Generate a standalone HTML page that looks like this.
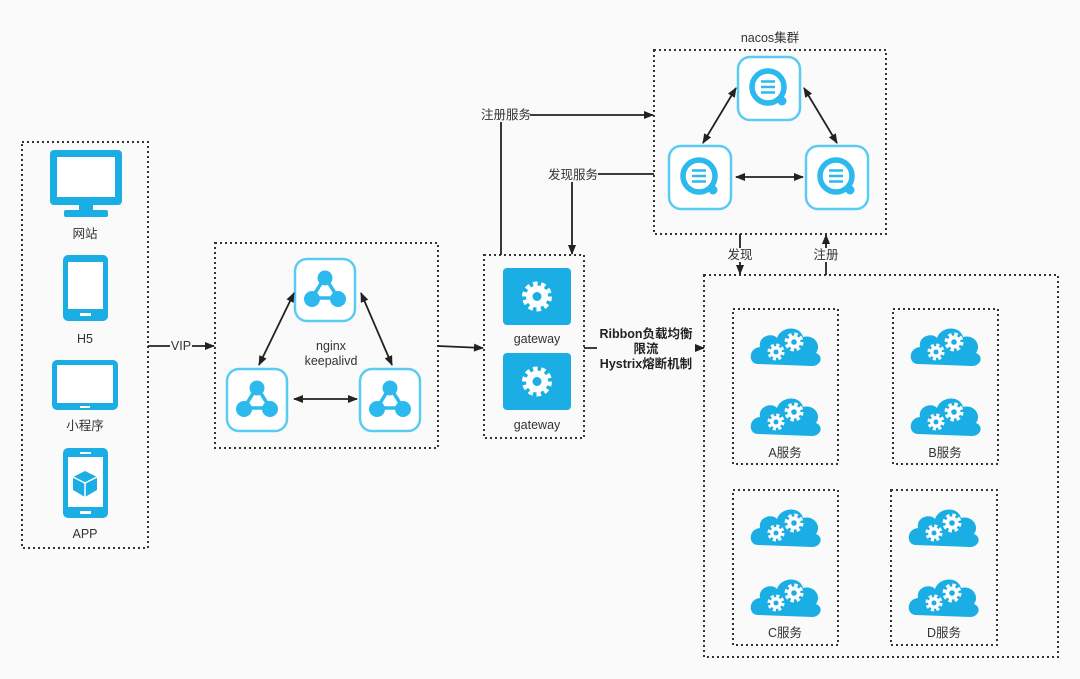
<!DOCTYPE html>
<html><head><meta charset="utf-8"><style>
body{margin:0;background:#fafafa;}
svg{display:block;font-family:"Liberation Sans","Noto Sans CJK SC",sans-serif;}
</style></head><body>
<svg width="1080" height="679" viewBox="0 0 1080 679" xmlns="http://www.w3.org/2000/svg">
<defs>
<marker id="ah" viewBox="0 0 10 10" refX="9" refY="5" markerWidth="12" markerHeight="10" orient="auto-start-reverse" markerUnits="userSpaceOnUse"><path d="M0,1 L10,5 L0,9 z" fill="#222"/></marker>
<g id="ng">
<rect x="2" y="2" width="60" height="62" rx="12" fill="#fff" stroke="#5ccbf2" stroke-width="2.5"/>
<path d="M32,20 L19,41 L45,41 Z" fill="none" stroke="#2bb9ee" stroke-width="3.5"/>
<circle cx="32" cy="21" r="7.5" fill="#2bb9ee"/><circle cx="19" cy="42" r="8" fill="#2bb9ee"/><circle cx="45" cy="42" r="8" fill="#2bb9ee"/>
</g>
<g id="nc">
<rect x="2" y="2" width="62" height="63" rx="12" fill="#fff" stroke="#5ccbf2" stroke-width="2.5"/>
<circle cx="32" cy="32" r="16" fill="none" stroke="#2bb9ee" stroke-width="5.5"/>
<circle cx="46" cy="46" r="4.5" fill="#2bb9ee"/>
<path d="M25,26.5 H39 M25,32 H39 M25,37.5 H39" stroke="#2bb9ee" stroke-width="2.4"/>
</g>
<g id="gear">
<circle r="7.5" fill="none" stroke="#fff" stroke-width="4" stroke-dasharray="3.3 2.6"/>
<circle r="6.5" fill="#fff"/><circle r="2.8" fill="#1aaee5"/>
</g>
<g id="cloud">
<path d="M8,44 C-2,44 -2,28 10,27 C8,16 22,12 27,18 C31,6 50,5 53,17 C64,14 72,25 66,33 C74,36 71,46 62,46 Z" fill="#1aaee5"/>
<use href="#gear" transform="translate(26,32) scale(0.9)"/>
<use href="#gear" transform="translate(44,22) scale(1)"/>
</g>
<g id="gw">
<rect width="68" height="57" rx="4" fill="#1aaee5"/>
<g transform="translate(34,28.5)"><circle r="12" fill="none" stroke="#fff" stroke-width="6" stroke-dasharray="4.2 3.3"/><circle r="11" fill="#fff"/><circle r="4.5" fill="#1aaee5"/></g>
</g>
</defs>

<g fill="none" stroke="#333" stroke-width="2" stroke-dasharray="2 3">
<rect x="22" y="142" width="126" height="406"/>
<rect x="215" y="243" width="223" height="205"/>
<rect x="484" y="255" width="100" height="183"/>
<rect x="654" y="50" width="232" height="184"/>
<rect x="704" y="275" width="354" height="382"/>
<rect x="733" y="309" width="105" height="155"/>
<rect x="893" y="309" width="105" height="155"/>
<rect x="733" y="490" width="105" height="155"/>
<rect x="891" y="490" width="106" height="155"/>
</g>

<!-- clients -->
<g fill="#1aaee5">
<rect x="50" y="150" width="72" height="55" rx="4"/><rect x="57" y="157" width="58" height="40" fill="#fff"/>
<rect x="79" y="204" width="14" height="8"/><rect x="64" y="210" width="44" height="7" rx="2"/>
<rect x="63" y="255" width="45" height="66" rx="5"/><rect x="68" y="262" width="35" height="47" fill="#fff"/><rect x="80" y="313" width="11" height="3" fill="#fff"/>
<rect x="52" y="360" width="66" height="50" rx="5"/><rect x="57" y="365" width="56" height="38" fill="#fff"/><rect x="80" y="406" width="10" height="2" fill="#fff"/>
<rect x="63" y="448" width="45" height="70" rx="5"/><rect x="68" y="457" width="35" height="50" fill="#fff"/><rect x="80" y="452" width="11" height="2" fill="#fff"/><rect x="80" y="511" width="11" height="3" fill="#fff"/>
<path d="M85,471 L97,477 L97,490 L85,497 L73,490 L73,477 Z"/>
<path d="M73,477 L85,483 L97,477 M85,483 V497" stroke="#fff" stroke-width="1.5" fill="none"/>
</g>
<g font-size="12.5" fill="#333" text-anchor="middle">
<text x="85" y="238">网站</text><text x="85" y="343">H5</text><text x="85" y="430">小程序</text><text x="85" y="538">APP</text>
</g>

<!-- nginx -->
<use href="#ng" x="293" y="257"/>
<use href="#ng" x="225" y="367"/>
<use href="#ng" x="358" y="367"/>
<text x="331" y="350" font-size="12.5" fill="#333" text-anchor="middle">nginx</text>
<text x="331" y="365" font-size="12.5" fill="#333" text-anchor="middle">keepalivd</text>
<g stroke="#222" stroke-width="1.8" marker-start="url(#ah)" marker-end="url(#ah)">
<line x1="294" y1="293" x2="259" y2="365"/>
<line x1="361" y1="293" x2="392" y2="365"/>
<line x1="294" y1="399" x2="357" y2="399"/>
</g>

<!-- VIP -->
<line x1="148" y1="346" x2="214" y2="346" stroke="#222" stroke-width="1.8" marker-end="url(#ah)"/>
<rect x="170" y="339" width="22" height="14" fill="#fafafa"/>
<text x="181" y="350" font-size="12.5" fill="#333" text-anchor="middle">VIP</text>
<line x1="438" y1="346" x2="483" y2="348" stroke="#222" stroke-width="1.8" marker-end="url(#ah)"/>

<!-- gateway -->
<use href="#gw" x="503" y="268"/>
<use href="#gw" x="503" y="353"/>
<text x="537" y="343" font-size="12.5" fill="#333" text-anchor="middle">gateway</text>
<text x="537" y="429" font-size="12.5" fill="#333" text-anchor="middle">gateway</text>

<line x1="584" y1="348" x2="704" y2="348" stroke="#222" stroke-width="1.8" marker-end="url(#ah)"/>
<rect x="597" y="326" width="98" height="44" fill="#fafafa"/>
<g font-size="12.5" font-weight="bold" fill="#222" text-anchor="middle">
<text x="646" y="338">Ribbon负载均衡</text><text x="646" y="353">限流</text><text x="646" y="368">Hystrix熔断机制</text>
</g>

<!-- nacos -->
<text x="770" y="42" font-size="12.5" fill="#333" text-anchor="middle">nacos集群</text>
<use href="#nc" x="736" y="55"/>
<use href="#nc" x="667" y="144"/>
<use href="#nc" x="804" y="144"/>
<g stroke="#222" stroke-width="1.8" marker-start="url(#ah)" marker-end="url(#ah)">
<line x1="736" y1="88" x2="703" y2="143"/>
<line x1="804" y1="88" x2="837" y2="143"/>
<line x1="736" y1="177" x2="803" y2="177"/>
</g>

<!-- register / discover -->
<g stroke="#222" stroke-width="1.8" fill="none">
<polyline points="501,255 501,115 653,115" marker-end="url(#ah)"/>
<polyline points="654,174 572,174 572,254" marker-end="url(#ah)"/>
<line x1="740" y1="234" x2="740" y2="274" marker-end="url(#ah)"/>
<line x1="826" y1="275" x2="826" y2="235" marker-end="url(#ah)"/>
</g>
<rect x="480" y="108" width="50" height="14" fill="#fafafa"/>
<text x="506" y="119" font-size="12.5" fill="#333" text-anchor="middle">注册服务</text>
<rect x="548" y="168" width="50" height="14" fill="#fafafa"/>
<text x="573" y="179" font-size="12.5" fill="#333" text-anchor="middle">发现服务</text>
<rect x="727" y="248" width="27" height="14" fill="#fafafa"/>
<text x="740" y="259" font-size="12.5" fill="#333" text-anchor="middle">发现</text>
<rect x="813" y="248" width="27" height="14" fill="#fafafa"/>
<text x="826" y="259" font-size="12.5" fill="#333" text-anchor="middle">注册</text>

<!-- services -->
<use href="#cloud" x="750" y="320"/><use href="#cloud" x="750" y="390"/>
<use href="#cloud" x="910" y="320"/><use href="#cloud" x="910" y="390"/>
<use href="#cloud" x="750" y="501"/><use href="#cloud" x="750" y="571"/>
<use href="#cloud" x="908" y="501"/><use href="#cloud" x="908" y="571"/>
<g font-size="12.5" fill="#333" text-anchor="middle">
<text x="785" y="457">A服务</text><text x="945" y="457">B服务</text>
<text x="785" y="637">C服务</text><text x="944" y="637">D服务</text>
</g>
</svg>
</body></html>
